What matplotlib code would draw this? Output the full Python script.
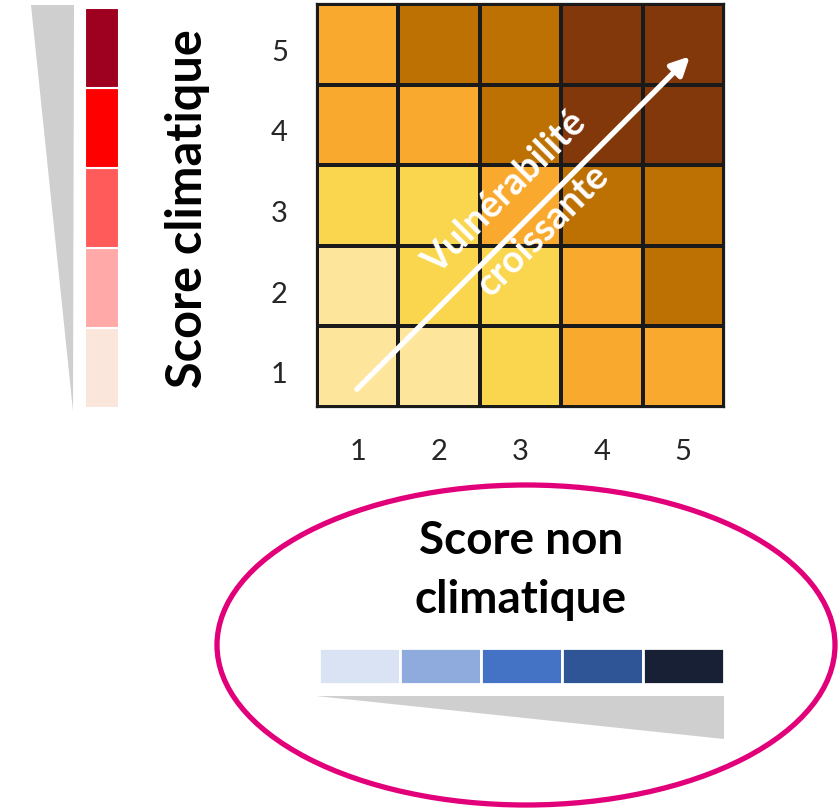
import matplotlib
matplotlib.use("Agg")
import matplotlib.pyplot as plt
import matplotlib.transforms as mtransforms
import numpy as np
from matplotlib.colors import ListedColormap, BoundaryNorm
from matplotlib.patches import Polygon, Ellipse

# ---- data ----
scores = [1, 2, 3, 4, 5]
tick_labels = ["1", "2", "3", "4", "5"]
# vulnerability level per cell: rows = climate score 1..5, cols = non-climate score 1..5
vuln_row1 = [1, 1, 2, 3, 3]
vuln_row2 = [1, 2, 2, 3, 4]
vuln_row3 = [2, 2, 3, 4, 4]
vuln_row4 = [3, 3, 4, 5, 5]
vuln_row5 = [3, 4, 4, 5, 5]
vuln_colors = ["#FDE59B", "#F9D64E", "#FAA92F", "#BD7102", "#83380C"]
climate_colors = ["#FAE6DA", "#FFAAA8", "#FF5B5B", "#FF0000", "#9E0020"]
nonclimate_colors = ["#DAE3F3", "#8FAADC", "#4472C4", "#2F5597", "#172035"]
arrow_label_1 = "Vulnérabilité"
arrow_label_2 = "croissante"
ylabel = "Score climatique"
xlabel_1 = "Score non"
xlabel_2 = "climatique"

W, H = 839, 812
fig = plt.figure(figsize=(W / 100, H / 100), dpi=100)

def px_axes(x0, y0, x1, y1, **kw):
    return fig.add_axes([x0 / W, 1 - y1 / H, (x1 - x0) / W, (y1 - y0) / H], **kw)

# background overlay axes in pixel coords for decorations
bg = fig.add_axes([0, 0, 1, 1], zorder=0)
bg.set_xlim(0, W)
bg.set_ylim(H, 0)
bg.axis("off")
grey = "#D0CFCF"
bg.add_patch(Polygon([(31, 6), (74, 6), (73, 412)], closed=True, color=grey, lw=0))
bg.add_patch(Polygon([(316, 697), (724, 697), (724, 740)], closed=True, color=grey, lw=0))
bg.add_patch(Ellipse((526, 646), 618, 320, fill=False, edgecolor="#E2007A", lw=3.8))
bg.text(188, 209, ylabel, rotation=90, ha="center", va="center",
        fontsize=35, fontweight="bold", family="Lato", color="black")
bg.text(521, 541, xlabel_1, ha="center", va="center",
        fontsize=33, fontweight="bold", family="Lato", color="black")
bg.text(521, 600, xlabel_2, ha="center", va="center",
        fontsize=33, fontweight="bold", family="Lato", color="black")

# ---- main heatmap ----
ax = px_axes(317, 5, 724, 408, zorder=2)
grid = np.array([vuln_row1, vuln_row2, vuln_row3, vuln_row4, vuln_row5])
cmap = ListedColormap(vuln_colors)
norm = BoundaryNorm(np.arange(0.5, 6.5, 1), cmap.N)
edges = np.arange(0.5, 6.0, 1)
ax.pcolormesh(edges, edges, grid, cmap=cmap, norm=norm,
              edgecolors="#1a1a1a", linewidth=1.6)
ax.set_xlim(0.5, 5.5)
ax.set_ylim(0.5, 5.5)
ax.set_xticks(scores)
ax.set_yticks(scores)
ax.set_xticklabels(tick_labels, family="Lato", fontsize=21, color="#262626")
ax.set_yticklabels(tick_labels, family="Lato", fontsize=21, color="#262626")
ax.tick_params(length=0)
ax.tick_params(axis="x", pad=22)
ax.tick_params(axis="y", pad=21)
offset = mtransforms.ScaledTranslation(0, -5 / 100, fig.dpi_scale_trans)
for lbl in ax.get_yticklabels():
    lbl.set_transform(lbl.get_transform() + offset)
for s in ax.spines.values():
    s.set_color("#1a1a1a")
    s.set_linewidth(1.6)

ax.annotate("", xy=(5.08, 4.85), xytext=(0.99, 0.72),
            arrowprops=dict(arrowstyle="-|>,head_length=1.1,head_width=0.55",
                            color="white", lw=3.8, shrinkA=0, shrinkB=0))
ax.text(2.81, 3.17, arrow_label_1, rotation=45, ha="center", va="center",
        rotation_mode="anchor", fontsize=27, fontweight="bold", family="Lato", color="white")
ax.text(3.28, 2.71, arrow_label_2, rotation=45, ha="center", va="center",
        rotation_mode="anchor", fontsize=27, fontweight="bold", family="Lato", color="white")

# ---- climate score bar (vertical) ----
axc = px_axes(85, 9, 119, 409, zorder=2)
axc.bar([0] * 5, [1] * 5, bottom=[s - 1 for s in scores], width=1,
        color=climate_colors, edgecolor="white", linewidth=1.5)
axc.set_xlim(-0.5, 0.5)
axc.set_ylim(0, 5)
axc.axis("off")

# ---- non-climate score bar (horizontal) ----
axn = px_axes(319, 649, 724, 685, zorder=2)
axn.barh([0] * 5, [1] * 5, left=[s - 1 for s in scores], height=1,
         color=nonclimate_colors, edgecolor="white", linewidth=2)
axn.set_ylim(-0.5, 0.5)
axn.set_xlim(0, 5)
axn.axis("off")

fig.savefig("out.png", dpi=100)
